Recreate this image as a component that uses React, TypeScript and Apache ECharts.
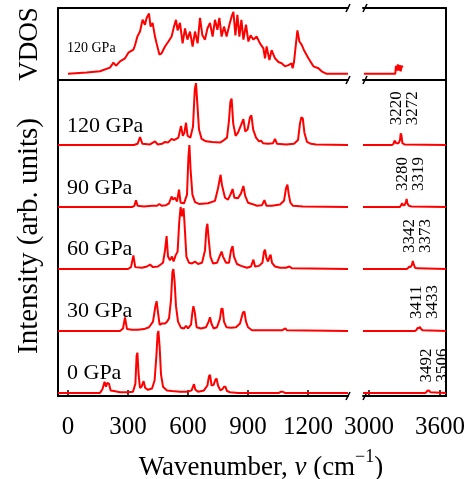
import React, { useEffect, useRef } from 'react';
import * as echarts from 'echarts';

// ---------- data ----------
const pressures = ['0 GPa', '30 GPa', '60 GPa', '90 GPa', '120 GPa'];
const offsets = [0, 1, 2, 3, 4];

const xTicksLow = [0, 300, 600, 900, 1200];
const xTicksHigh = [3000, 3600];

const vdosLow: [number, number][] = [
  [0, 0], [93, 0.02], [160, 0.04], [210, 0.1], [227, 0.18], [240, 0.13], [260, 0.2], [285, 0.25],
  [302, 0.34], [327, 0.39], [335, 0.46], [347, 0.6], [360, 0.68], [373, 0.87], [385, 0.79], [393, 0.9],
  [405, 0.97], [413, 0.76], [423, 0.82], [435, 0.6], [443, 0.49], [457, 0.31], [468, 0.33], [485, 0.44],
  [502, 0.52], [518, 0.6], [530, 0.76], [540, 0.87], [548, 0.7], [560, 0.82], [573, 0.49], [585, 0.73],
  [597, 0.55], [610, 0.68], [623, 0.44], [635, 0.68], [648, 0.49], [660, 0.9], [672, 0.62], [685, 0.55],
  [697, 0.73], [710, 0.82], [723, 0.6], [735, 0.87], [747, 0.71], [757, 0.9], [768, 0.6], [780, 0.76],
  [793, 0.6], [807, 0.79], [818, 0.92], [827, 1.0], [837, 0.62], [847, 0.95], [857, 0.6], [867, 0.87],
  [877, 0.55], [890, 0.79], [902, 0.52], [913, 0.62], [927, 0.55], [943, 0.6], [960, 0.49], [977, 0.41],
  [985, 0.25], [993, 0.44], [1007, 0.22], [1018, 0.38], [1035, 0.25], [1052, 0.19], [1068, 0.17],
  [1085, 0.12], [1102, 0.14], [1118, 0.17], [1123, 0.09], [1130, 0.19], [1140, 0.49], [1147, 0.7],
  [1157, 0.52], [1168, 0.47], [1180, 0.38], [1202, 0.25], [1227, 0.12], [1252, 0.09], [1268, 0.04],
  [1293, 0], [1400, 0],
];
const vdosHigh: [number, number][] = [
  [2958, 0], [3222, 0], [3228, 0.13], [3236, 0.05], [3244, 0.15], [3252, 0.05], [3260, 0.14],
  [3268, 0.04], [3276, 0.13], [3284, 0.1],
];

const spec0: [number, number][] = [
  [-50, 0], [160, 0], [172, 0.06], [183, 0.18], [190, 0.1], [196, 0.16], [205, 0.15], [213, 0.04],
  [230, 0.03], [260, 0.01], [300, 0.01], [325, 0.02], [337, 0.15], [343, 0.6], [347, 0.65], [353, 0.3],
  [360, 0.08], [368, 0.1], [378, 0.19], [386, 0.08], [400, 0.05], [420, 0.07], [433, 0.2], [442, 0.6],
  [448, 0.95], [452, 1.0], [458, 0.75], [465, 0.3], [475, 0.1], [495, 0.04], [520, 0.03], [560, 0.02],
  [600, 0.02], [618, 0.04], [625, 0.1], [630, 0.14], [637, 0.05], [650, 0.02], [680, 0.04], [697, 0.12],
  [705, 0.27], [710, 0.29], [718, 0.12], [728, 0.13], [738, 0.22], [743, 0.23], [750, 0.12], [762, 0.04],
  [772, 0.06], [780, 0.1], [787, 0.1], [795, 0.03], [810, 0.01], [850, 0], [1055, 0], [1065, 0.02],
  [1072, 0.02], [1085, 0], [1400, 0],
];
const spec30: [number, number][] = [
  [-50, 0], [260, 0], [275, 0.04], [285, 0.22], [295, 0.03], [320, 0.02], [350, 0.02], [380, 0.03],
  [405, 0.06], [425, 0.15], [437, 0.4], [443, 0.48], [450, 0.3], [458, 0.1], [470, 0.12], [485, 0.12],
  [495, 0.15], [505, 0.2], [515, 0.5], [522, 0.95], [527, 1.0], [533, 0.8], [540, 0.4], [550, 0.15],
  [565, 0.05], [580, 0.04], [590, 0.08], [600, 0.04], [615, 0.1], [622, 0.3], [627, 0.4], [634, 0.3],
  [643, 0.06], [665, 0.04], [690, 0.06], [703, 0.15], [710, 0.22], [717, 0.12], [728, 0.04], [745, 0.06],
  [760, 0.2], [767, 0.36], [773, 0.36], [780, 0.15], [792, 0.06], [815, 0.05], [840, 0.06], [860, 0.12],
  [875, 0.3], [882, 0.31], [890, 0.15], [900, 0.06], [920, 0.01], [1000, 0.01], [1070, 0.01],
  [1080, 0.03], [1087, 0.04], [1095, 0.01], [1400, 0],
];
const spec60: [number, number][] = [
  [-50, 0], [300, 0], [315, 0.03], [327, 0.22], [336, 0.03], [370, 0.02], [395, 0.04], [410, 0.07],
  [425, 0.03], [450, 0.04], [475, 0.1], [485, 0.3], [493, 0.53], [500, 0.2], [510, 0.14], [520, 0.2],
  [528, 0.12], [538, 0.22], [548, 0.28], [556, 0.75], [563, 1.0], [570, 0.85], [578, 0.98], [585, 0.6],
  [592, 0.2], [605, 0.1], [620, 0.09], [635, 0.12], [650, 0.08], [670, 0.1], [685, 0.3], [692, 0.65],
  [697, 0.73], [703, 0.5], [712, 0.2], [725, 0.09], [745, 0.1], [760, 0.22], [768, 0.28], [775, 0.2],
  [790, 0.1], [805, 0.1], [815, 0.3], [823, 0.37], [830, 0.2], [845, 0.08], [865, 0.05], [895, 0.02],
  [915, 0.04], [927, 0.15], [935, 0.04], [955, 0.05], [972, 0.1], [980, 0.28], [985, 0.31], [992, 0.18],
  [1000, 0.12], [1008, 0.2], [1013, 0.23], [1020, 0.1], [1035, 0.04], [1060, 0.02], [1090, 0.02],
  [1107, 0.04], [1120, 0.01], [1400, 0],
];
const spec90: [number, number][] = [
  [-50, 0], [320, 0], [332, 0.02], [340, 0.11], [348, 0.02], [380, 0.01], [420, 0.02], [445, 0.02],
  [457, 0.05], [468, 0.02], [490, 0.03], [505, 0.06], [518, 0.17], [525, 0.12], [535, 0.15], [545, 0.09],
  [555, 0.28], [563, 0.07], [580, 0.06], [595, 0.2], [602, 0.8], [607, 1.0], [613, 0.6], [622, 0.2],
  [635, 0.08], [655, 0.05], [700, 0.06], [735, 0.1], [750, 0.3], [763, 0.52], [770, 0.35], [785, 0.15],
  [800, 0.12], [812, 0.2], [823, 0.29], [832, 0.15], [850, 0.14], [865, 0.22], [877, 0.34], [886, 0.18],
  [900, 0.07], [920, 0.05], [945, 0.02], [970, 0.03], [982, 0.11], [992, 0.02], [1020, 0.02],
  [1060, 0.04], [1080, 0.1], [1090, 0.3], [1097, 0.36], [1104, 0.2], [1112, 0.07], [1125, 0.02],
  [1175, 0.01], [1400, 0],
];
const spec120: [number, number][] = [
  [-50, 0], [330, 0], [348, 0.02], [360, 0.13], [372, 0.02], [410, 0.01], [435, 0.06], [448, 0.01],
  [470, 0.02], [485, 0.05], [500, 0.04], [518, 0.1], [530, 0.08], [552, 0.12], [565, 0.31], [574, 0.15],
  [582, 0.2], [590, 0.36], [598, 0.15], [612, 0.12], [625, 0.3], [634, 0.9], [640, 1.0], [646, 0.7],
  [655, 0.25], [668, 0.1], [690, 0.06], [720, 0.05], [760, 0.04], [780, 0.08], [795, 0.12], [805, 0.4],
  [812, 0.7], [818, 0.75], [826, 0.35], [838, 0.15], [850, 0.2], [865, 0.32], [877, 0.42], [886, 0.22],
  [898, 0.25], [910, 0.45], [917, 0.48], [926, 0.25], [940, 0.12], [955, 0.06], [965, 0.07], [975, 0.03],
  [1000, 0.02], [1025, 0.03], [1035, 0.1], [1045, 0.02], [1090, 0.01], [1130, 0.02], [1150, 0.08],
  [1160, 0.35], [1167, 0.45], [1174, 0.43], [1182, 0.2], [1195, 0.05], [1215, 0.02], [1240, 0.01],
  [1400, 0],
];

const high0: [number, number][] = [
  [2950, 0], [3475, 0], [3488, 0.02], [3494, 0.04], [3502, 0.035], [3508, 0.04], [3518, 0.01], [3650, 0],
];
const high30: [number, number][] = [
  [2950, 0], [3390, 0], [3402, 0.02], [3411, 0.05], [3420, 0.04], [3430, 0.065], [3440, 0.03], [3455, 0.01], [3650, 0],
];
const high60: [number, number][] = [
  [2950, 0], [3320, 0], [3332, 0.02], [3342, 0.04], [3350, 0.03], [3362, 0.06], [3370, 0.13], [3378, 0.08],
  [3388, 0.02], [3410, 0.01], [3650, 0],
];
const high90: [number, number][] = [
  [2950, 0], [3260, 0], [3272, 0.03], [3280, 0.06], [3288, 0.03], [3300, 0.03], [3312, 0.08], [3318, 0.13],
  [3324, 0.06], [3336, 0.02], [3360, 0.01], [3650, 0],
];
const high120: [number, number][] = [
  [2950, 0], [3195, 0], [3208, 0.02], [3215, 0.07], [3222, 0.06], [3230, 0.03], [3250, 0.03], [3262, 0.08],
  [3268, 0.19], [3274, 0.16], [3282, 0.03], [3300, 0.01], [3650, 0],
];

const highPeakLabels: [number, number][] = [
  [3492, 3506], [3411, 3433], [3342, 3373], [3280, 3319], [3220, 3272],
];

const lowSpectra = [spec0, spec30, spec60, spec90, spec120];
const highSpectra = [high0, high30, high60, high90, high120];

// ---------- layout ----------
const FONT = '"Liberation Serif", "Times New Roman", "DejaVu Serif", serif';
const L = 58, GAP_L = 348, GAP_R = 363, R = 446;
const TOP = 8, MID = 80, BOT = 396;
const RED = '#ff0000';

export default function App() {
  const ref = useRef<HTMLDivElement>(null);

  useEffect(() => {
    if (!ref.current) return;
    const chart = echarts.init(ref.current, null, { renderer: 'svg' });
    const frame = { show: true, onZero: false, lineStyle: { color: '#000', width: 2 } };
    const off = { show: false };

    const xAx = (gridIndex: number, min: number, max: number, position: string, extra: any = {}) => ({
      type: 'value', gridIndex, min, max, position,
      axisLine: frame, axisTick: off, axisLabel: off, splitLine: off, ...extra,
    });
    const yAx = (gridIndex: number, min: number, max: number, position: string) => ({
      type: 'value', gridIndex, min, max, position,
      axisLine: frame, axisTick: off, axisLabel: off, splitLine: off,
    });
    const tickStyle = (vals: number[]) => ({
      axisTick: { show: true, inside: true, length: 6, customValues: vals, lineStyle: { color: '#000', width: 1.5 } },
      axisLabel: {
        show: true, customValues: vals, fontSize: 25, fontFamily: FONT, color: '#000', margin: 17,
        formatter: (v: number) => String(v),
      },
    });

    const series: any[] = [
      { type: 'line', xAxisIndex: 0, yAxisIndex: 0, data: vdosLow, symbol: 'none', lineStyle: { color: RED, width: 2 } },
      { type: 'line', xAxisIndex: 2, yAxisIndex: 1, data: vdosHigh, symbol: 'none', lineStyle: { color: RED, width: 2 } },
    ];
    lowSpectra.forEach((s, i) => {
      series.push({
        type: 'line', xAxisIndex: 4, yAxisIndex: 2, symbol: 'none',
        data: s.map(([x, y]) => [x, y + offsets[i]]), lineStyle: { color: RED, width: 2 },
      });
    });
    highSpectra.forEach((s, i) => {
      series.push({
        type: 'line', xAxisIndex: 5, yAxisIndex: 3, symbol: 'none',
        data: s.map(([x, y]) => [x, y + offsets[i]]), lineStyle: { color: RED, width: 2 },
      });
    });

    chart.setOption({
      animation: false,
      grid: [
        { left: L, top: TOP, width: GAP_L - L, height: MID - TOP },
        { left: GAP_R, top: TOP, width: R - GAP_R, height: MID - TOP },
        { left: L, top: MID, width: GAP_L - L, height: BOT - MID },
        { left: GAP_R, top: MID, width: R - GAP_R, height: BOT - MID },
      ],
      xAxis: [
        xAx(0, -50, 1400, 'bottom'),
        xAx(0, -50, 1400, 'top'),
        xAx(1, 2950, 3650, 'bottom'),
        xAx(1, 2950, 3650, 'top'),
        xAx(2, -50, 1400, 'bottom', tickStyle(xTicksLow)),
        xAx(3, 2950, 3650, 'bottom', tickStyle(xTicksHigh)),
      ],
      yAxis: [
        yAx(0, -0.1, 1.06, 'left'),
        yAx(1, -0.1, 1.06, 'right'),
        yAx(2, -0.05, 5.05, 'left'),
        yAx(3, -0.05, 5.05, 'right'),
      ],
      series,
    });

    const txt = (extra: any) => ({ fontFamily: FONT, fill: '#000', ...extra });
    const g: any[] = [];
    [TOP, MID, BOT].forEach((y) => {
      [GAP_L, GAP_R + 2].forEach((x) => {
        g.push({ type: 'line', shape: { x1: x - 2, y1: y + 4, x2: x + 2, y2: y - 4 }, style: { stroke: '#000', lineWidth: 1.5 } });
      });
    });
    pressures.forEach((p, i) => {
      const pt = chart.convertToPixel({ gridIndex: 2 } as any, [0, offsets[i]]) as number[];
      g.push({
        type: 'text', x: L + 9, y: pt[1] - 21,
        style: txt({ text: p, fontSize: 22, align: 'left', verticalAlign: 'middle', textAlign: 'left', textVerticalAlign: 'middle' }),
      });
    });
    highPeakLabels.forEach((labs, i) => {
      const nu = (labs[0] + labs[1]) / 2;
      const peak = Math.max(...highSpectra[i].map((d) => d[1]));
      const pt = chart.convertToPixel({ gridIndex: 3 } as any, [nu, offsets[i] + peak]) as number[];
      g.push({
        type: 'text', x: pt[0] + 5, y: pt[1] - 8, rotation: Math.PI / 2,
        style: txt({ text: labs.join('\n'), fontSize: 17, lineHeight: 16, align: 'left', verticalAlign: 'middle', textAlign: 'left', textVerticalAlign: 'middle' }),
      });
    });
    g.push({
      type: 'text', x: L + 9, y: 47.5,
      style: txt({ text: '120 GPa', fontSize: 14, align: 'left', verticalAlign: 'middle', textAlign: 'left', textVerticalAlign: 'middle' }),
    });
    g.push({
      type: 'text', x: 28, y: (TOP + MID) / 2, rotation: Math.PI / 2,
      style: txt({ text: 'VDOS', fontSize: 27, align: 'center', verticalAlign: 'middle', textAlign: 'center', textVerticalAlign: 'middle' }),
    });
    g.push({
      type: 'text', x: 27, y: (MID + BOT) / 2 - 2, rotation: Math.PI / 2,
      style: txt({ text: 'Intensity (arb. units)', fontSize: 29, align: 'center', verticalAlign: 'middle', textAlign: 'center', textVerticalAlign: 'middle' }),
    });
    g.push({
      type: 'text', x: 261, y: 463,
      style: txt({
        text: '{n|Wavenumber, }{i|ν}{n| (cm}{s|−1}{n|)}',
        align: 'center', verticalAlign: 'middle', textAlign: 'center', textVerticalAlign: 'middle',
        rich: {
          n: { fontSize: 27, fontFamily: FONT, fill: '#000', color: '#000', lineHeight: 32, verticalAlign: 'bottom' },
          i: { fontSize: 27, fontFamily: FONT, fontStyle: 'italic', fill: '#000', color: '#000', lineHeight: 32, verticalAlign: 'bottom' },
          s: { fontSize: 18, fontFamily: FONT, fill: '#000', color: '#000', verticalAlign: 'top' },
        },
      }),
    });
    chart.setOption({ graphic: g });

    return () => chart.dispose();
  }, []);

  return <div ref={ref} style={{ position: 'fixed', left: 0, top: 0, width: 476, height: 479 }} />;
}
